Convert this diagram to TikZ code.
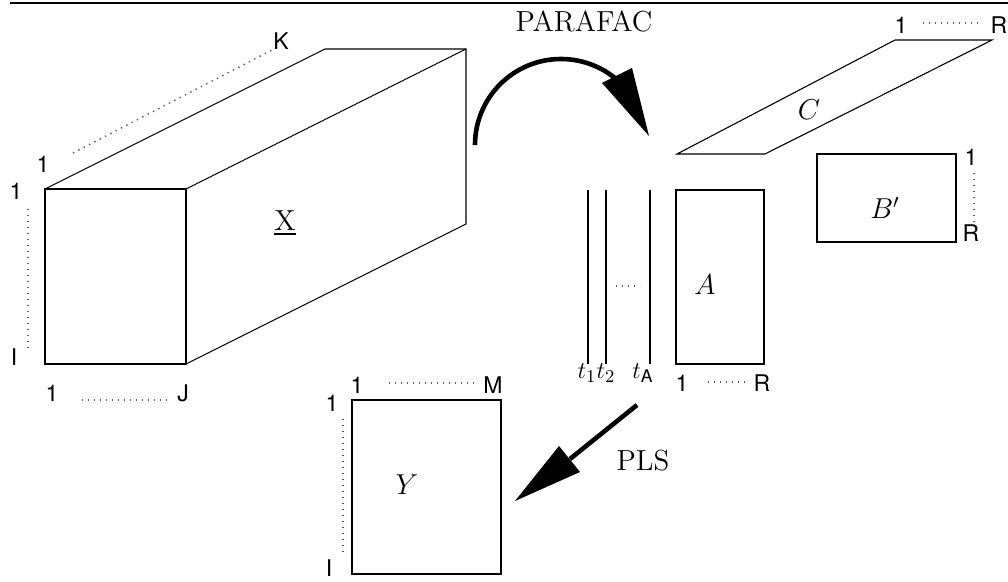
\documentclass[tikz,border=0pt]{standalone}
\usepackage{amsmath}
\usepackage{fontspec}
\setsansfont{TeX Gyre Heros}
\usetikzlibrary{calc}

\begin{document}
\begin{tikzpicture}[
    x=0.5pt, y=-0.5pt,
    edge/.style={draw=black, line width=0.55pt},
    trace/.style={draw=black, line width=0.8pt},
    idx/.style={font=\fontsize{11.5}{13}\sffamily\selectfont, inner sep=0pt},
    sym/.style={font=\fontsize{14.5}{17}\selectfont, inner sep=0pt},
    tlab/.style={font=\fontsize{12.5}{14}\selectfont, inner sep=0pt},
    dots/.style={draw=black!65, line width=0.7pt, dash pattern=on 0.7pt off 2.3pt},
    bold/.style={draw=black, line width=2.3pt}
]
    \useasboundingbox (0,0) rectangle (1008,582);
    \draw[line width=1pt] (10,3) -- (1008,3);

    % three-way array X
    \coordinate (xa) at (45,189);
    \coordinate (xb) at (186,189);
    \coordinate (xc) at (186,364);
    \coordinate (xd) at (45,364);
    \coordinate (xe) at (325,49);
    \coordinate (xf) at (466,49);
    \coordinate (xg) at (466,224);
    \draw[edge] (xa) -- (xb) -- (xc) -- (xd) -- cycle;
    \draw[edge] (xa) -- (xe) -- (xf) -- (xg) -- (xc);
    \draw[edge] (xb) -- (xf);
    \node[sym] (X) at (285,223) {\underline{X}};

    \node[idx] (xk1) at (43,164) {1};
    \node[idx] (xkK) at (281,41) {K};
    \draw[dots] (73,153) -- (274,49);
    \node[idx] (xi1) at (16,191) {1};
    \node[idx] (xiI) at (14,357) {I};
    \draw[dots] (28,209) -- (28,350);
    \node[idx] (xj1) at (52,393) {1};
    \node[idx] (xjJ) at (183,393) {J};
    \draw[dots] (82,400) -- (168,400);

    % PARAFAC arrow
    \node[sym] (parafac) at (584,21) {PARAFAC};
    \coordinate (pstart) at (475,145);
    \coordinate (ptip) at (649,136);
    \coordinate (pl) at (602,83);
    \coordinate (pr) at (632,68);
    \draw[bold] (pstart) arc[start angle=180, end angle=45, radius=43pt];
    \fill (ptip) -- (pl) -- (pr) -- cycle;

    % score vectors
    \foreach \x in {588,606,650}
        \draw[trace] (\x,190) -- (\x,364);
    \draw[dots] (616,286) -- (640,286);
    \node[tlab] (t1) at (587,373) {$t_1$};
    \node[tlab] (t2) at (606,373) {$t_2$};
    \node[tlab] (tA) at (643,373) {$t_{\textsf{A}}$};

    % loadings A
    \draw[edge] (676,190) rectangle (764,364);
    \node[sym] (A) at (705,285) {$A$};
    \node[idx] (a1) at (682,383) {1};
    \node[idx] (aR) at (762,383) {R};
    \draw[dots] (708,382) -- (745,382);

    % loadings C
    \coordinate (ca) at (677,154);
    \coordinate (cb) at (765,154);
    \coordinate (cc) at (992,40);
    \coordinate (cd) at (895,40);
    \draw[edge] (ca) -- (cb) -- (cc) -- (cd) -- cycle;
    \node[sym] (C) at (809,110) {$C$};
    \node[idx] (c1) at (901,25) {1};
    \node[idx] (cR) at (999,25) {R};
    \draw[dots] (923,23) -- (978,23);

    % loadings B'
    \draw[edge] (817,154) rectangle (956,242);
    \node[sym] (B) at (885,208) {$B'$};
    \node[idx] (b1) at (971,157) {1};
    \node[idx] (bR) at (971,233) {R};
    \draw[dots] (974,173) -- (974,222);

    % PLS arrow
    \node[sym] (pls) at (643,461) {PLS};
    \coordinate (lstart) at (637,405);
    \coordinate (lbase) at (570,459);
    \coordinate (ltip) at (515,501);
    \coordinate (ll) at (559,446);
    \coordinate (lr) at (580,472);
    \draw[bold] (lstart) -- (lbase);
    \fill (ltip) -- (ll) -- (lr) -- cycle;

    % response Y
    \draw[edge] (352,400) rectangle (501,574);
    \node[sym] (Y) at (407,485) {$Y$};
    \node[idx] (ym1) at (357,385) {1};
    \node[idx] (ymM) at (493,385) {M};
    \draw[dots] (389,383) -- (475,383);
    \node[idx] (yi1) at (332,403) {1};
    \node[idx] (yiI) at (329,568) {I};
    \draw[dots] (343,419) -- (343,553);
\end{tikzpicture}
\end{document}
